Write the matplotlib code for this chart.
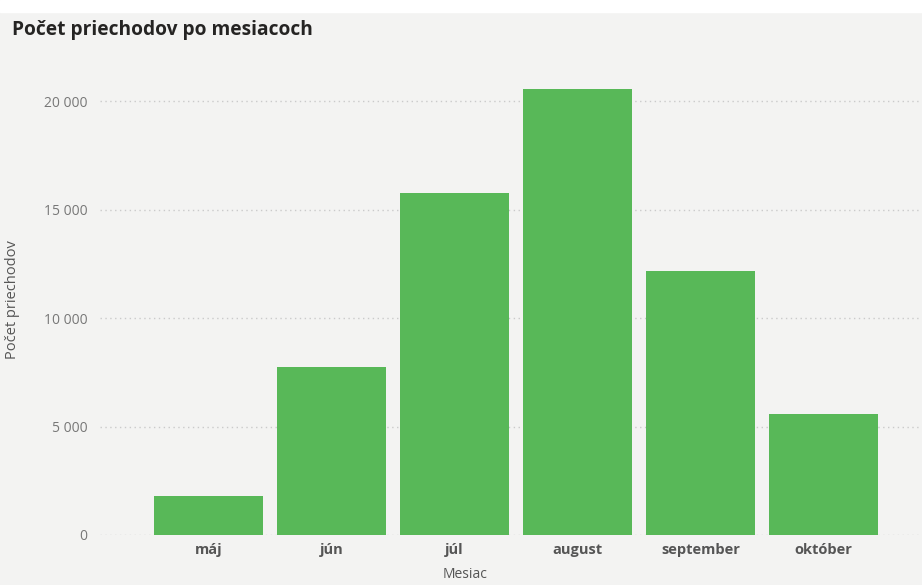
import matplotlib
matplotlib.use("Agg")
import matplotlib.pyplot as plt
from matplotlib.ticker import FuncFormatter

months = ["máj", "jún", "júl", "august", "september", "október"]
passes = [1800, 7750, 15780, 20550, 12180, 5560]
y_ticks = [0, 5000, 10000, 15000, 20000]

W, H = 922, 585
plt.rcParams["font.family"] = ["Open Sans", "DejaVu Sans"]

fig = plt.figure(figsize=(W / 100, H / 100), dpi=100, facecolor="#f3f3f2")
# white strip along the top edge
fig.patches.append(plt.Rectangle((0, 1 - 12 / H), 1, 12 / H, transform=fig.transFigure,
                                 color="white", zorder=0))

ax = fig.add_axes([100 / W, 50 / H, 1 - 100 / W, (535 - 57.6) / H])
ax.set_facecolor("none")

x = range(len(months))
ax.bar(x, passes, width=0.89, color="#58b858", zorder=3)

ax.set_xlim(-0.88, 5.8)
ax.set_ylim(0, 22000)
ax.set_yticks(y_ticks)
ax.yaxis.set_major_formatter(FuncFormatter(lambda v, _: f"{int(v):,}".replace(",", " ")))
ax.set_xticks(list(x))
ax.set_xticklabels(months, fontweight="bold", color="#555555", fontsize=10.5)
ax.tick_params(axis="y", colors="#777777", labelsize=10, length=0, pad=9)
ax.tick_params(axis="x", length=0, pad=6)
ax.grid(axis="y", linestyle=(0, (1, 2.5)), color="#cacaca", linewidth=1, zorder=0)
for s in ax.spines.values():
    s.set_visible(False)

fig.text(12 / W, 1 - 30 / H, "Počet priechodov po mesiacoch", fontsize=13.8,
         fontweight="bold", color="#252423", va="center", ha="left")
fig.text(465 / W, 1 - 575 / H, "Mesiac", fontsize=10, color="#555555",
         va="center", ha="center")
fig.text(13 / W, 1 - 300 / H, "Počet priechodov", fontsize=10.5, color="#555555",
         va="center", ha="center", rotation=90)

fig.savefig("out.png", dpi=100, facecolor=fig.get_facecolor())
